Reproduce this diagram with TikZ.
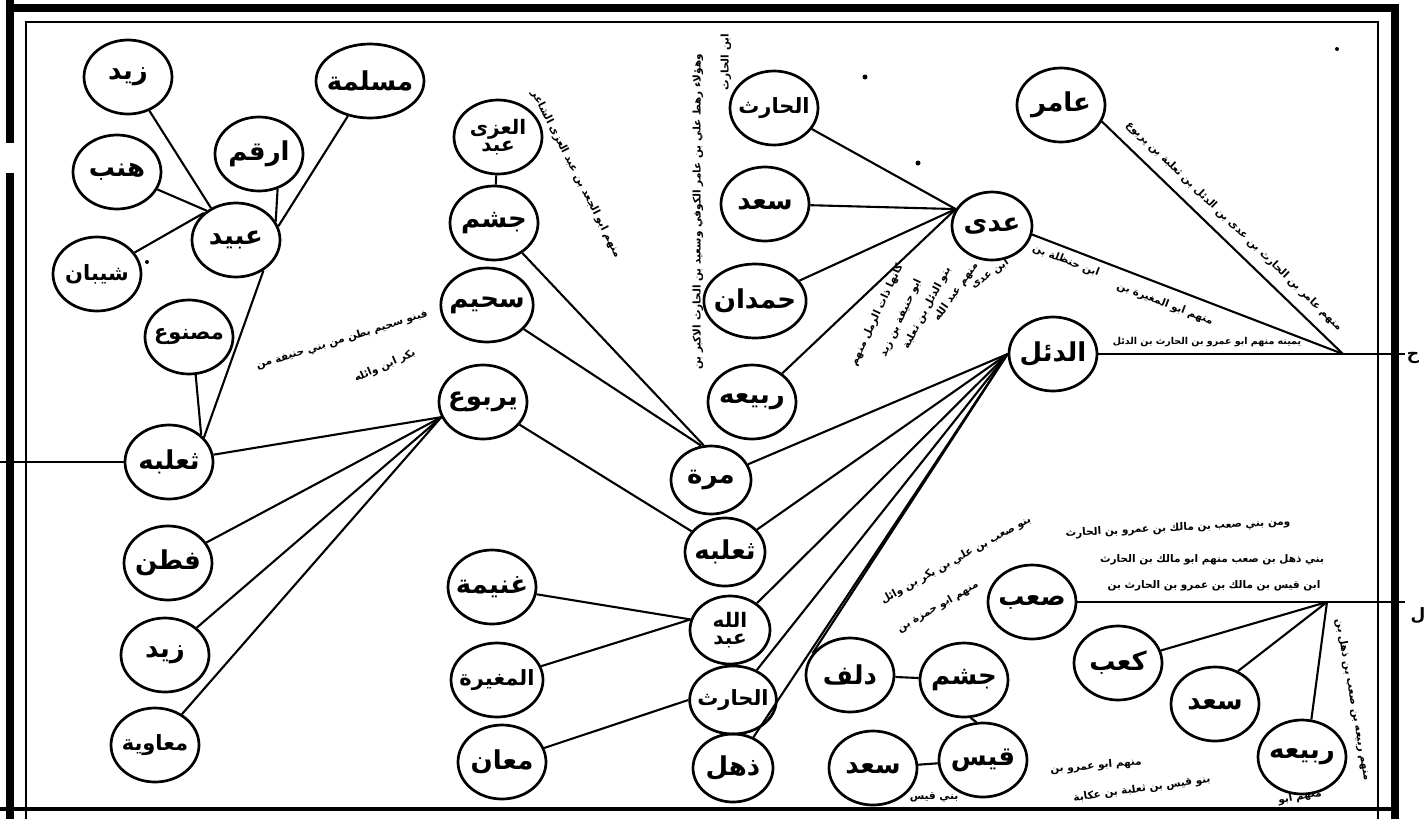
\documentclass[tikz,border=0pt]{standalone}
\usepackage{fontspec}
\usetikzlibrary{shapes.geometric}
\newfontfamily\arabicfont[Script=Arabic]{DejaVu Sans}
\TeXXeTstate=1
\newcommand{\arb}[1]{\beginR #1\endR}

\begin{document}
\begin{tikzpicture}[x=1pt,y=-1pt,
        ism/.style={draw,ellipse,line width=2.7pt,minimum width=88pt,minimum height=74pt,inner sep=-5pt,align=center,
            font=\arabicfont\bfseries\fontsize{26}{24}\selectfont},
        saghir/.style={ism,minimum width=80pt,minimum height=68pt},
        ithnan/.style={font=\arabicfont\bfseries\fontsize{20}{17}\selectfont},
        tawil/.style={font=\arabicfont\bfseries\fontsize{21}{20}\selectfont},
        khatt/.style={line width=2.1pt},
        hashiya/.style={inner sep=0pt,font=\arabicfont\bfseries\fontsize{10.5}{11}\selectfont},
        hamish/.style={inner sep=0pt,font=\arabicfont\bfseries\fontsize{17}{16}\selectfont}]

    \useasboundingbox (0,0) rectangle (1427,819);
    \fill[white] (0,0) rectangle (1427,819);

    \draw[line width=8pt] (10,0) -- (10,143);
    \draw[line width=8pt] (10,173) -- (10,819);
    \draw[line width=8pt] (6,8) -- (1399,8);
    \draw[line width=8pt] (1395,4) -- (1395,819);
    \draw[line width=4pt] (0,809) -- (1399,809);
    \draw[line width=1.8pt] (26,819) -- (26,22) -- (1378,22) -- (1378,819);

    \node[ism] (zayd1) at (128,77) {\arb{زيد}};
    \node[ism] (maslama) at (370,81) {\arb{مسلمة}};
    \node[ism] (arqam) at (259,154) {\arb{ارقم}};
    \node[ism] (hunab) at (117,172) {\arb{هنب}};
    \node[ism] (ubayd) at (236,240) {\arb{عبيد}};
    \node[ism,tawil] (shayban) at (97,274) {\arb{شيبان}};
    \node[ism,tawil] (masnu) at (189,337) {\arb{مصنوع}};
    \node[ism] (thaalaba1) at (169,462) {\arb{ثعلبه}};
    \node[ism] (fatn) at (168,563) {\arb{فطن}};
    \node[ism] (zayd2) at (165,655) {\arb{زيد}};
    \node[ism,tawil] (muawiya) at (155,745) {\arb{معاوية}};

    \node[ism,ithnan] (abdaluzza) at (498,137) {\arb{العزى}\\\arb{عبد}};
    \node[ism] (jusham1) at (494,223) {\arb{جشم}};
    \node[ism] (suhaym) at (487,305) {\arb{سحيم}};
    \node[ism] (yarbu) at (483,402) {\arb{يربوع}};
    \node[ism] (ghanima) at (492,587) {\arb{غنيمة}};
    \node[ism,tawil] (mughira) at (497,680) {\arb{المغيرة}};
    \node[ism] (maan) at (502,762) {\arb{معان}};

    \node[saghir] (murra) at (711,480) {\arb{مرة}};
    \node[saghir] (thaalaba2) at (725,552) {\arb{ثعلبه}};
    \node[saghir,ithnan] (abdallah) at (730,630) {\arb{الله}\\\arb{عبد}};
    \node[saghir,tawil] (harith2) at (733,700) {\arb{الحارث}};
    \node[saghir] (dhuhl) at (733,768) {\arb{ذهل}};

    \node[ism,tawil] (harith1) at (774,108) {\arb{الحارث}};
    \node[ism] (saad1) at (765,204) {\arb{سعد}};
    \node[ism] (hamdan) at (755,301) {\arb{حمدان}};
    \node[ism] (rabia1) at (752,402) {\arb{ربيعه}};

    \node[saghir] (adi) at (992,226) {\arb{عدى}};
    \node[ism] (dail) at (1053,354) {\arb{الدئل}};
    \node[ism] (amir) at (1061,105) {\arb{عامر}};
    \coordinate (ras1) at (1343,354);
    \coordinate (sharq1) at (1405,354);

    \node[ism] (sab) at (1032,602) {\arb{صعب}};
    \node[ism] (kab) at (1118,663) {\arb{كعب}};
    \node[ism] (saad2) at (1215,704) {\arb{سعد}};
    \node[ism] (rabia2) at (1302,757) {\arb{ربيعه}};
    \coordinate (ras2) at (1327,602);
    \coordinate (sharq2) at (1405,602);

    \node[ism] (dulaf) at (850,675) {\arb{دلف}};
    \node[ism] (jusham2) at (964,680) {\arb{جشم}};
    \node[ism] (qays) at (983,760) {\arb{قيس}};
    \node[ism] (saad3) at (873,768) {\arb{سعد}};
    \coordinate (gharb) at (0,462);

    \draw[khatt] (zayd1) -- (ubayd.128);
    \draw[khatt] (hunab) -- (ubayd.135);
    \draw[khatt] (shayban) -- (ubayd.140);
    \draw[khatt] (arqam.-62) -- (ubayd.25);
    \draw[khatt] (maslama) -- (ubayd.18);
    \draw[khatt] (ubayd.-48) -- (thaalaba1.35);
    \draw[khatt] (masnu.-80) -- (thaalaba1.40);
    \draw[khatt] (thaalaba1) -- (gharb);
    \draw[khatt] (thaalaba1) -- (yarbu.200);
    \draw[khatt] (fatn) -- (yarbu.200);
    \draw[khatt] (zayd2) -- (yarbu.200);
    \draw[khatt] (muawiya) -- (yarbu.200);
    \draw[khatt] (yarbu) -- (thaalaba2);
    \draw[khatt] (abdaluzza) -- (jusham1);
    \draw[khatt] (jusham1) -- (murra.102);
    \draw[khatt] (suhaym) -- (murra.106);
    \draw[khatt] (ghanima) -- (abdallah.165);
    \draw[khatt] (mughira) -- (abdallah.165);
    \draw[khatt] (maan) -- (harith2.west);
    \draw[khatt] (murra) -- (dail.west);
    \draw[khatt] (thaalaba2) -- (dail.west);
    \draw[khatt] (abdallah) -- (dail.west);
    \draw[khatt] (harith2) -- (dail.west);
    \draw[khatt] (dhuhl) -- (dail.west);
    \draw[khatt] (dulaf.150) -- (dail.west);
    \draw[khatt] (harith1) -- (adi.155);
    \draw[khatt] (saad1) -- (adi.155);
    \draw[khatt] (hamdan) -- (adi.155);
    \draw[khatt] (rabia1) -- (adi.155);
    \draw[khatt] (amir.-22) -- (ras1);
    \draw[khatt] (adi.-12) -- (ras1);
    \draw[khatt] (dail) -- (sharq1);
    \draw[khatt] (sab) -- (sharq2);
    \draw[khatt] (kab) -- (ras2);
    \draw[khatt] (saad2.55) -- (ras2);
    \draw[khatt] (rabia2.76) -- (ras2);
    \draw[khatt] (dulaf) -- (jusham2);
    \draw[khatt] (jusham2.-80) -- (qays.100);
    \draw[khatt] (saad3) -- (qays);

    \node[hashiya,rotate=17] (bunu1) at (342,340) {\arb{فبنو سحيم بطن من بني حنيفة من}};
    \node[hashiya,rotate=24] (bunu2) at (385,366) {\arb{بكر ابن وائله}};
    \node[hashiya,rotate=-63] (uzza) at (576,174) {\arb{منهم ابو الجعد بن عبد العزى الشاعر}};
    \node[hashiya,rotate=90] (raht1) at (698,212) {\arb{وهؤلاء رهط علي بن عامر الكوفي وسعيد بن الحارث الاكبر بن}};
    \node[hashiya,rotate=90] (raht2) at (726,62) {\arb{ابن الحارث}};
    \node[hashiya,rotate=65] (dail1) at (877,315) {\arb{كانها ذات الرمل منهم}};
    \node[hashiya,rotate=65] (dail2) at (901,318) {\arb{ابو حنيفة بن زيد}};
    \node[hashiya,rotate=62] (dail3) at (927,308) {\arb{بنو الدئل بن ثعلبة}};
    \node[hashiya,rotate=55] (dail4) at (956,292) {\arb{منهم عبد الله}};
    \node[hashiya,rotate=35] (dail6) at (990,274) {\arb{ابن عدى}};
    \node[hashiya,rotate=-21] (adi1) at (1066,261) {\arb{ابن حنظلة بن}};
    \node[hashiya,rotate=-21] (adi2) at (1165,304) {\arb{منهم ابو المغيرة بن}};
    \node[hashiya,font=\arabicfont\bfseries\fontsize{9.5}{10}\selectfont] (dail5) at (1207,342) {\arb{يمينه منهم ابو عمرو بن الحارث بن الدئل}};
    \node[hashiya,rotate=-44] (amir1) at (1234,226) {\arb{منهم عامر بن الحارث بن عدى بن الدئل بن ثعلبة بن يربوع}};
    \node[hashiya,rotate=3] (sab1) at (1178,528) {\arb{ومن بني صعب بن مالك بن عمرو بن الحارث}};
    \node[hashiya] (sab2) at (1212,560) {\arb{بني ذهل بن صعب منهم ابو مالك بن الحارث}};
    \node[hashiya] (sab3) at (1214,586) {\arb{ابن قيس بن مالك بن عمرو بن الحارث بن}};
    \node[hashiya,rotate=30] (sab4) at (938,607) {\arb{منهم ابو حمزة بن}};
    \node[hashiya,rotate=29] (sab5) at (956,560) {\arb{بنو صعب بن علي بن بكر بن وائل}};
    \node[hashiya,rotate=-80] (rabia3) at (1353,700) {\arb{منهم ربيعه بن صعب بن ذهل بن}};
    \node[hashiya,rotate=5] (qays1) at (1096,766) {\arb{منهم ابو عمرو بن}};
    \node[hashiya,rotate=8] (qays2) at (1142,789) {\arb{بنو قيس بن ثعلبة بن عكابة}};
    \node[hashiya] (qays3) at (934,797) {\arb{بني قيس}};
    \node[hashiya,rotate=10] (rabia4) at (1300,797) {\arb{منهم ابو}};

    \node[hamish] (haa) at (1413,358) {\arb{ح}};
    \node[hamish] (lam) at (1418,616) {\arb{ل}};

    \fill (865,77) circle (2.5pt);
    \fill (918,163) circle (2.5pt);
    \fill (1337,49) circle (2pt);
    \fill (147,262) circle (2pt);
\end{tikzpicture}
\end{document}
